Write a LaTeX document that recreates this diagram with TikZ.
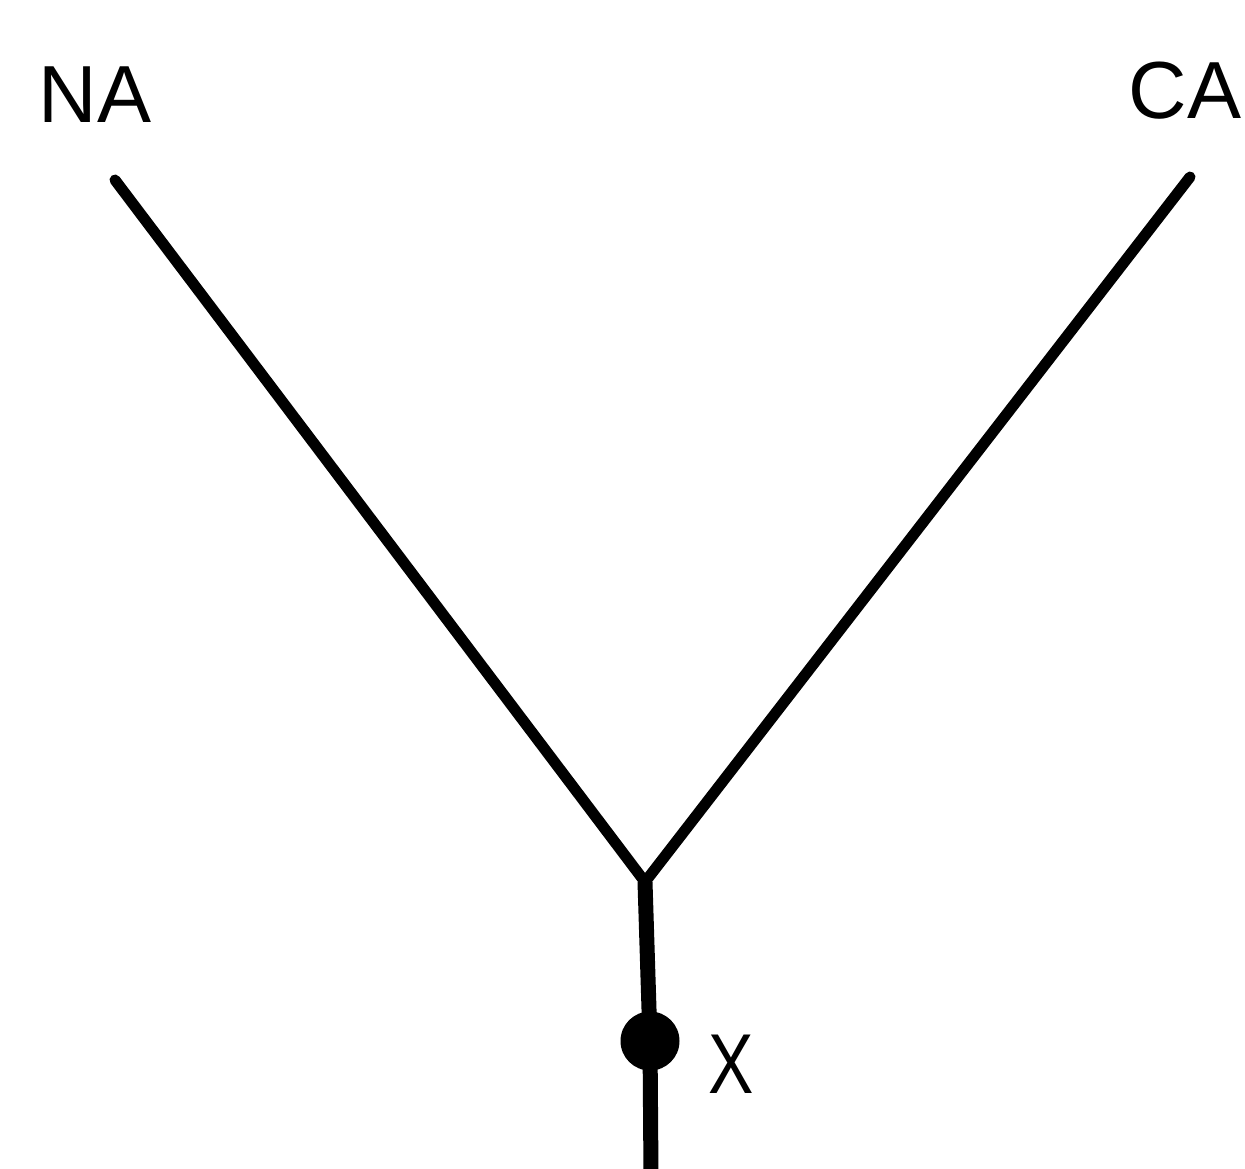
\documentclass[tikz,border=0pt]{standalone}
\usepackage{fontspec}
\setmainfont{Liberation Sans}
\begin{document}
\begin{tikzpicture}[x=1pt,y=-1pt,
  branch/.style={line width=11pt,line cap=round,line join=round},
  lbl/.style={font=\fontsize{81}{95}\selectfont,inner sep=0pt}]
\useasboundingbox (0,0) rectangle (1245,1169);
\coordinate (na) at (115,180);
\coordinate (ca) at (1190,177);
\coordinate (j) at (645,882);
\coordinate (bot) at (651,1175);
\node[circle,fill=black,minimum size=59pt,inner sep=0pt] (x) at (650,1041) {};
\draw[branch] (na) -- (j) -- (ca);
\draw[line width=15pt] (j) -- (x.center) -- (bot);
\node[lbl,anchor=base] (nalbl) at (95,123) {NA};
\node[lbl,anchor=base] (calbl) at (1185,119) {CA};
\node[lbl,font=\fontsize{85}{95}\selectfont,anchor=base,xscale=0.8] (xlbl) at (731,1093) {X};
\end{tikzpicture}
\end{document}
